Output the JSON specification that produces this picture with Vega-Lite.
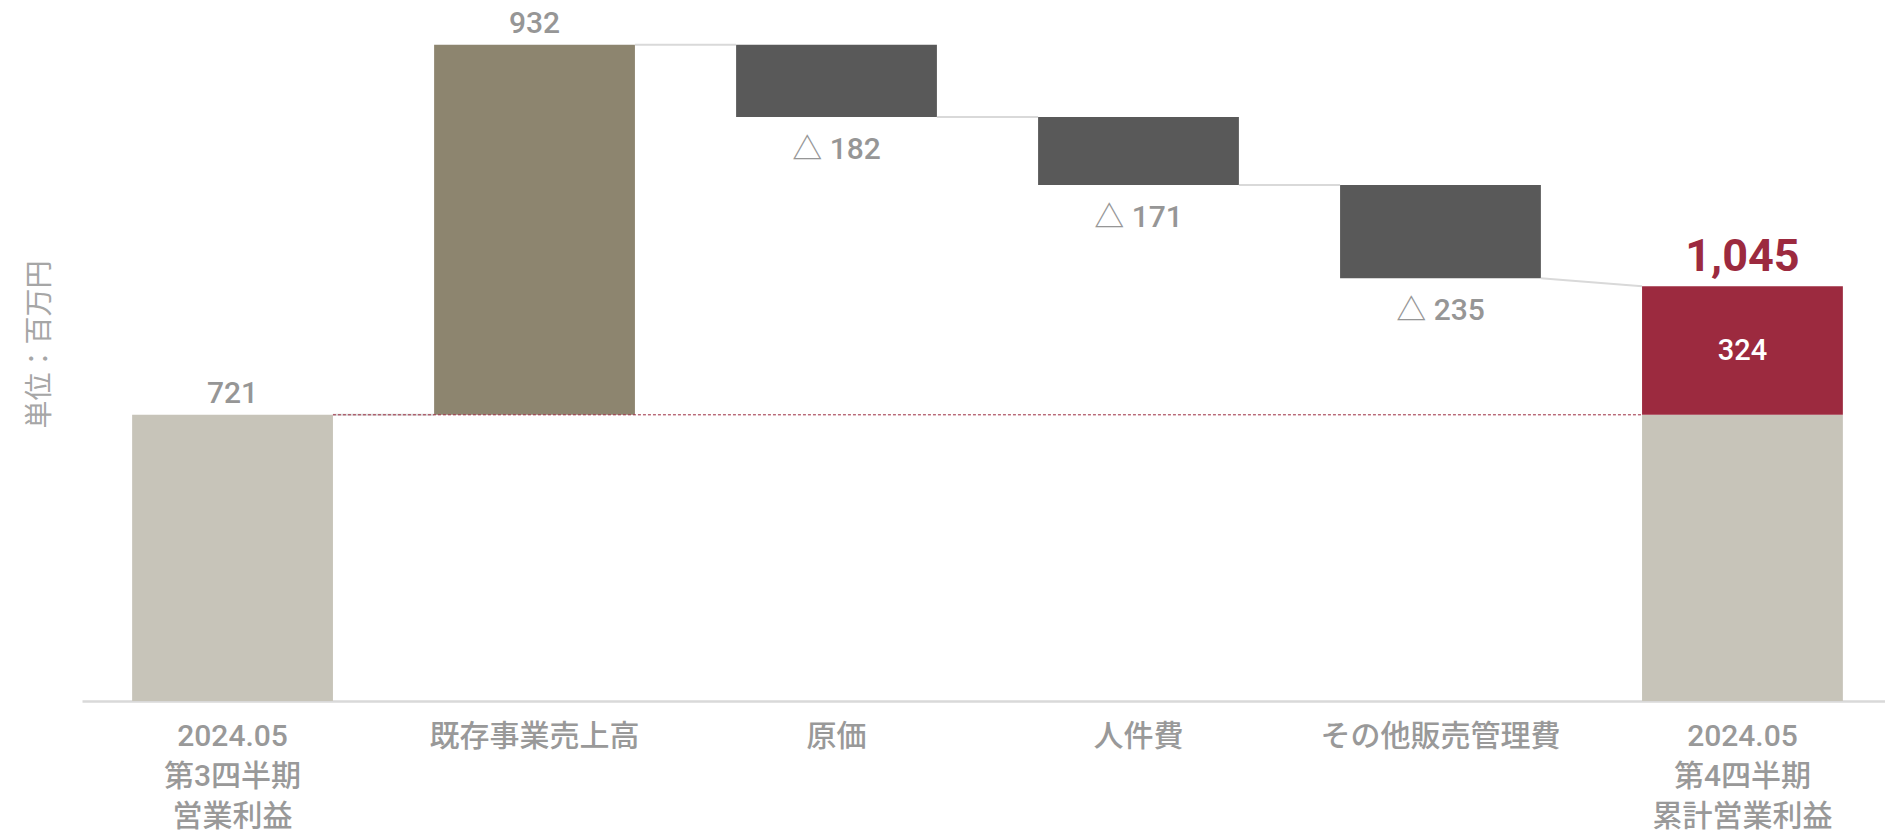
{
  "$schema": "https://vega.github.io/schema/vega-lite/v6.json",
  "autosize": "none",
  "width": 1803,
  "height": 701,
  "padding": {"left": 82, "top": 0, "right": 0, "bottom": 130},
  "background": "white",
  "config": {"view": {"stroke": null}, "font": "Roboto, Noto Sans CJK JP"},
  "datasets": {
    "bars": [
      {"cat": "2024.05|第3四半期|営業利益", "start": 0, "end": 721, "kind": "base"},
      {"cat": "既存事業売上高", "start": 721, "end": 1653, "kind": "up"},
      {"cat": "原価", "start": 1653, "end": 1471, "kind": "down"},
      {"cat": "人件費", "start": 1471, "end": 1300, "kind": "down"},
      {"cat": "その他販売管理費", "start": 1300, "end": 1065, "kind": "down"},
      {"cat": "2024.05|第4四半期|累計営業利益", "start": 0, "end": 721, "kind": "base"},
      {"cat": "2024.05|第4四半期|累計営業利益", "start": 721, "end": 1045, "kind": "total"}
    ],
    "links": [
      {"from": "2024.05|第3四半期|営業利益", "to": "既存事業売上高", "y1": 721, "y2": 721},
      {"from": "既存事業売上高", "to": "原価", "y1": 1653, "y2": 1653},
      {"from": "原価", "to": "人件費", "y1": 1471, "y2": 1471},
      {"from": "人件費", "to": "その他販売管理費", "y1": 1300, "y2": 1300},
      {"from": "その他販売管理費", "to": "2024.05|第4四半期|累計営業利益", "y1": 1065, "y2": 1045}
    ],
    "ref": [
      {"from": "2024.05|第3四半期|営業利益", "to": "2024.05|第4四半期|累計営業利益", "y": 721}
    ],
    "labels": [
      {"cat": "2024.05|第3四半期|営業利益", "value": 721, "text": "721", "kind": "above"},
      {"cat": "既存事業売上高", "value": 1653, "text": "932", "kind": "above"},
      {"cat": "原価", "value": 1471, "text": "△ 182", "kind": "below"},
      {"cat": "人件費", "value": 1300, "text": "△ 171", "kind": "below"},
      {"cat": "その他販売管理費", "value": 1065, "text": "△ 235", "kind": "below"},
      {"cat": "2024.05|第4四半期|累計営業利益", "value": 1045, "text": "1,045", "kind": "total"},
      {"cat": "2024.05|第4四半期|累計営業利益", "value": 883, "text": "324", "kind": "inside"}
    ]
  },
  "layer": [
    {
      "data": {"name": "bars"},
      "mark": {"type": "bar"},
      "encoding": {
        "x": {
          "field": "cat",
          "type": "nominal",
          "title": null,
          "scale": {
            "domain": ["2024.05|第3四半期|営業利益", "既存事業売上高", "原価", "人件費", "その他販売管理費", "2024.05|第4四半期|累計営業利益"],
            "range": [0, 1811],
            "paddingInner": 0.335,
            "paddingOuter": 0.166
          },
          "axis": {
            "labelExpr": "split(datum.value, '|')",
            "labelAngle": 0,
            "labelFontSize": 30,
            "labelFontWeight": 500,
            "labelColor": "#999999",
            "labelLineHeight": 40,
            "labelPadding": 20,
            "labelLimit": 500,
            "ticks": false,
            "grid": false,
            "domainColor": "#d9d9d9",
            "domainWidth": 2.5
          }
        },
        "y": {
          "field": "start",
          "type": "quantitative",
          "scale": {"domain": [0, 1766], "nice": false},
          "axis": {
            "title": "単位：百万円",
            "labels": false,
            "ticks": false,
            "domain": false,
            "grid": false,
            "titleFontSize": 28,
            "titleColor": "#a6a6a6",
            "titleFontWeight": "normal",
            "titleX": -42,
            "titleY": 344,
            "titleAngle": -90,
            "titleAlign": "center",
            "titleBaseline": "middle"
          }
        },
        "y2": {"field": "end"},
        "color": {
          "field": "kind",
          "type": "nominal",
          "scale": {"domain": ["base", "up", "down", "total"], "range": ["#c7c4b9", "#8d856f", "#595959", "#9c2a3f"]},
          "legend": null
        }
      }
    },
    {
      "data": {"name": "links"},
      "mark": {"type": "rule", "color": "#d9d9d9", "strokeWidth": 2},
      "encoding": {
        "x": {"field": "from", "type": "nominal", "bandPosition": 1},
        "x2": {"field": "to", "bandPosition": 0},
        "y": {"field": "y1", "type": "quantitative"},
        "y2": {"field": "y2"}
      }
    },
    {
      "data": {"name": "ref"},
      "mark": {"type": "rule", "color": "#9c2a3f", "strokeWidth": 1, "strokeDash": [3, 2]},
      "encoding": {
        "x": {"field": "from", "type": "nominal", "bandPosition": 1},
        "x2": {"field": "to", "bandPosition": 0},
        "y": {"field": "y", "type": "quantitative"}
      }
    },
    {
      "data": {"name": "labels"},
      "transform": [{"filter": "datum.kind === 'above'"}],
      "mark": {"type": "text", "fontSize": 30, "fontWeight": 500, "color": "#969696", "baseline": "alphabetic", "dy": -12},
      "encoding": {
        "x": {"field": "cat", "type": "nominal"},
        "y": {"field": "value", "type": "quantitative"},
        "text": {"field": "text"}
      }
    },
    {
      "data": {"name": "labels"},
      "transform": [{"filter": "datum.kind === 'below'"}],
      "mark": {"type": "text", "fontSize": 30, "fontWeight": 500, "color": "#969696", "baseline": "alphabetic", "dy": 42},
      "encoding": {
        "x": {"field": "cat", "type": "nominal"},
        "y": {"field": "value", "type": "quantitative"},
        "text": {"field": "text"}
      }
    },
    {
      "data": {"name": "labels"},
      "transform": [{"filter": "datum.kind === 'total'"}],
      "mark": {"type": "text", "fontSize": 45, "fontWeight": "bold", "color": "#9c2a3f", "baseline": "alphabetic", "dy": -15},
      "encoding": {
        "x": {"field": "cat", "type": "nominal"},
        "y": {"field": "value", "type": "quantitative"},
        "text": {"field": "text"}
      }
    },
    {
      "data": {"name": "labels"},
      "transform": [{"filter": "datum.kind === 'inside'"}],
      "mark": {"type": "text", "fontSize": 29, "fontWeight": 500, "color": "white", "baseline": "middle"},
      "encoding": {
        "x": {"field": "cat", "type": "nominal"},
        "y": {"field": "value", "type": "quantitative"},
        "text": {"field": "text"}
      }
    }
  ]
}
